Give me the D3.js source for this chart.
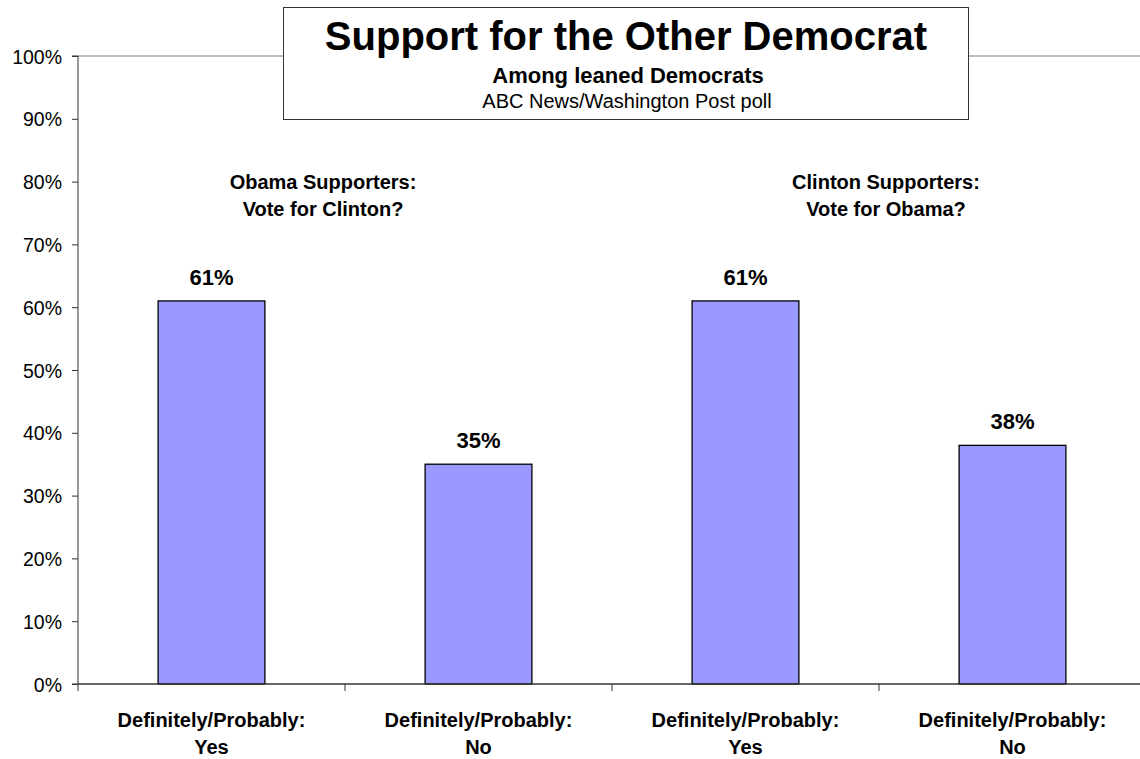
<!DOCTYPE html>
<html><head><meta charset="utf-8">
<script src="https://cdn.jsdelivr.net/npm/d3@7"></script>
<style>body{margin:0;background:#fff}svg{font-family:"Liberation Sans",Arial,sans-serif}</style>
</head><body><svg id="c" width="1140" height="759"></svg>
<script>
const categories = ["c1","c2","c3","c4"];
const catLine1 = ["Definitely/Probably:","Definitely/Probably:","Definitely/Probably:","Definitely/Probably:"];
const catLine2 = ["Yes","No","Yes","No"];
const values = [61, 35, 61, 38];
const yTicks = [0,10,20,30,40,50,60,70,80,90,100];
const groupLabels = [["Obama Supporters:","Vote for Clinton?"],["Clinton Supporters:","Vote for Obama?"]];
const titleText = "Support for the Other Democrat";
const subtitle1 = "Among leaned Democrats";
const subtitle2 = "ABC News/Washington Post poll";

(function(){
const svg = d3.select("#c");
const pL = 78, pR = 1146, pT = 56, pB = 684;
const x = d3.scaleBand().domain(categories).range([pL, pR]).paddingInner(0.6).paddingOuter(0.3);
const xCat = d3.scaleBand().domain(categories).range([pL, pR]);
const y = d3.scaleLinear().domain([0,100]).range([pB, pT]);

// top border line at 100%
svg.append("line").attr("x1",pL).attr("x2",1140).attr("y1",y(100)).attr("y2",y(100)).attr("stroke","#808080").attr("stroke-width",1);

// bars
svg.selectAll("rect.bar").data(values).join("rect").attr("class","bar")
  .attr("x",(d,i)=>x(categories[i])).attr("width",x.bandwidth())
  .attr("y",d=>y(d)).attr("height",d=>pB-y(d))
  .attr("fill","#9999ff").attr("stroke","#000").attr("stroke-width",1.3);

// value labels
svg.selectAll("text.val").data(values).join("text").attr("class","val")
  .attr("x",(d,i)=>x(categories[i])+x.bandwidth()/2).attr("y",d=>y(d)-16)
  .attr("text-anchor","middle").attr("font-weight","bold").attr("font-size",22).text(d=>d+"%");

// y axis
const yAxis = d3.axisLeft(y).tickValues(yTicks).tickFormat(d=>d+"%").tickSize(6).tickPadding(10);
const ga = svg.append("g").attr("transform",`translate(${pL},0)`).call(yAxis);
ga.select(".domain").attr("stroke","#333").attr("d",`M-6,${y(0)}H0V${y(100)}H-6`);
ga.selectAll(".tick line").attr("stroke","#333");
ga.selectAll(".tick text").attr("font-size",19.5).attr("font-family","'Liberation Sans',Arial,sans-serif").attr("fill","#000").attr("dy","0.36em");

// x axis line and ticks
svg.append("line").attr("x1",pL).attr("x2",1140).attr("y1",pB).attr("y2",pB).attr("stroke","#333").attr("stroke-width",1.3);
const xt = categories.map(c=>xCat(c)).concat([pR]);
svg.selectAll("line.xt").data(xt).join("line").attr("class","xt")
  .attr("x1",d=>d).attr("x2",d=>d).attr("y1",pB).attr("y2",pB+7).attr("stroke","#333");

// category labels
categories.forEach((c,i)=>{
  const cx = xCat(c)+xCat.bandwidth()/2;
  const t = svg.append("text").attr("x",cx).attr("text-anchor","middle").attr("font-weight","bold").attr("font-size",20);
  t.append("tspan").attr("x",cx).attr("y",727).text(catLine1[i]);
  t.append("tspan").attr("x",cx).attr("y",754).text(catLine2[i]);
});

// group labels
const groupCenters = [323, 886];
groupLabels.forEach((g,i)=>{
  const cx = groupCenters[i];
  const t = svg.append("text").attr("text-anchor","middle").attr("font-weight","bold").attr("font-size",20);
  t.append("tspan").attr("x",cx).attr("y",189).text(g[0]);
  t.append("tspan").attr("x",cx).attr("y",216).text(g[1]);
});

// title box
svg.append("rect").attr("x",283.5).attr("y",7.5).attr("width",685).attr("height",112).attr("fill","#fff").attr("stroke","#333").attr("stroke-width",1);
svg.append("text").attr("x",626).attr("y",50).attr("text-anchor","middle").attr("font-weight","bold").attr("font-size",40).text(titleText);
svg.append("text").attr("x",628).attr("y",83).attr("text-anchor","middle").attr("font-weight","bold").attr("font-size",22).text(subtitle1);
svg.append("text").attr("x",627).attr("y",108).attr("text-anchor","middle").attr("font-size",20).text(subtitle2);
})();
</script></body></html>
